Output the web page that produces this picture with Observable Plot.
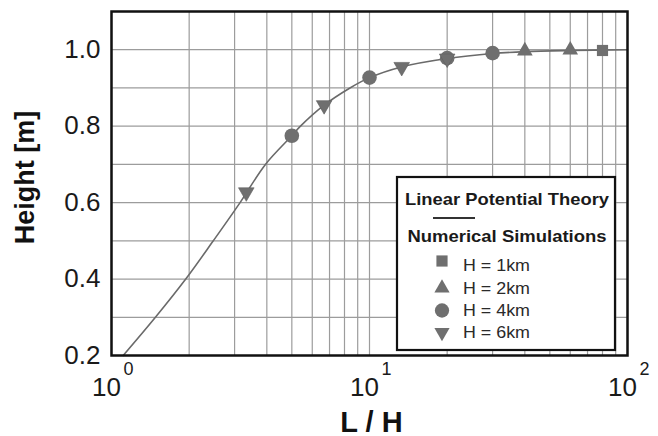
<!DOCTYPE html>
<html>
<head>
<meta charset="utf-8">
<script src="https://cdn.jsdelivr.net/npm/d3@7"></script>
<script src="https://cdn.jsdelivr.net/npm/@observablehq/plot@0.6"></script>
<style>
  html, body { margin: 0; padding: 0; background: #fff; }
  #chart { position: relative; width: 658px; height: 436px; overflow: hidden; }
</style>
</head>
<body>
<div id="chart"></div>
<script>
// Theory curve (Linear Potential Theory)
const curveX = [1.11, 1.48, 1.94, 2.48, 3.15, 3.95, 5.0, 5.4, 6.67, 8.4, 10, 13.3, 20, 30, 40, 60, 100];
const curveY = [0.2, 0.3, 0.4, 0.5, 0.6, 0.7, 0.775, 0.8, 0.855, 0.9, 0.927, 0.955, 0.977, 0.99, 0.995, 0.998, 1.0];

// Numerical simulations
const h1X = [80], h1Y = [0.998];
const h2X = [40, 60], h2Y = [0.997, 0.999];
const h4X = [5, 10, 20, 30], h4Y = [0.775, 0.927, 0.978, 0.991];
const h6X = [3.33, 6.67, 13.33, 20], h6Y = [0.627, 0.855, 0.955, 0.977];

// Axes
const xGrid = [1,2,3,4,5,6,7,8,9,10,20,30,40,50,60,70,80,90,100];
const yGrid = [0.2,0.3,0.4,0.5,0.6,0.7,0.8,0.9,1.0,1.1];
const yTicks = [0.2,0.4,0.6,0.8,1.0];
const xTickVals = [1, 10, 100];
const xTickBase = ["10", "10", "10"];
const xTickExp = ["0", "1", "2"];

const legendTitle1 = "Linear Potential Theory";
const legendTitle2 = "Numerical Simulations";
const legendLabels = ["H = 1km", "H = 2km", "H = 4km", "H = 6km"];

const zip = (xs, ys) => xs.map((x, i) => ({x, y: ys[i]}));
const curve = zip(curveX, curveY);
const MARK = "#6f6f6f";

const plot = Plot.plot({
  width: 658,
  height: 436,
  marginLeft: 111,
  marginRight: 31,
  marginTop: 11,
  marginBottom: 81,
  style: {fontFamily: "'Liberation Sans', Arial, sans-serif", background: "#fff", color: "#1a1a1a"},
  x: {type: "log", domain: [1, 100], axis: null},
  y: {domain: [0.2, 1.1], axis: null},
  marks: [
    Plot.ruleX(xGrid, {stroke: "#9c9c9c", strokeWidth: 1.2}),
    Plot.ruleY(yGrid, {stroke: "#9c9c9c", strokeWidth: 1.2}),
    Plot.line(curve, {x: "x", y: "y", stroke: "#6a6a6a", strokeWidth: 1.6, curve: "catmull-rom"}),
    Plot.dot(zip(h1X, h1Y), {x: "x", y: "y", symbol: "square", r: 6.3, fill: MARK}),
    Plot.dot(zip(h2X, h2Y), {x: "x", y: "y", symbol: "triangle", r: 5.8, fill: MARK}),
    Plot.dot(zip(h4X, h4Y), {x: "x", y: "y", symbol: "circle", r: 7.3, fill: MARK}),
    Plot.dot(zip(h6X, h6Y), {x: "x", y: "y", symbol: "triangle", r: 5.8, rotate: 180, fill: MARK, stroke: "#5e5e5e", strokeWidth: 0.6}),
    Plot.axisY(yTicks, {tickSize: 0, tickPadding: 11, fontSize: 26, tickFormat: d3.format(".1f"), label: null, fill: "#1a1a1a"}),
    Plot.text(xTickVals, {x: d => d, y: 0.2, text: (d, i) => xTickBase[i], dx: -5, dy: 32, fontSize: 26, fill: "#1a1a1a"}),
    Plot.text(xTickVals, {x: d => d, y: 0.2, text: (d, i) => xTickExp[i], dx: 17, dy: 14, fontSize: 18, fill: "#1a1a1a"}),
    Plot.text(["Height [m]"], {frameAnchor: "left", textAnchor: "middle", dx: -86, dy: -6, rotate: -90, fontSize: 27, fontWeight: "bold", fill: "#111"}),
    Plot.text(["L / H"], {frameAnchor: "bottom", textAnchor: "middle", dx: 2, dy: 76, lineAnchor: "bottom", fontSize: 29, fontWeight: "bold", fill: "#111"}),
    Plot.frame({stroke: "#111", strokeWidth: 2.5})
  ]
});

document.getElementById("chart").appendChild(plot);

// Legend box drawn into the Plot SVG
const svg = d3.select(plot);
const g = svg.append("g").attr("font-family", "'Liberation Sans', Arial, sans-serif").attr("text-anchor", "start");
g.append("rect").attr("x", 397).attr("y", 177).attr("width", 218).attr("height", 173)
  .attr("fill", "#fff").attr("stroke", "#111").attr("stroke-width", 2.2);
g.append("text").attr("x", 507).attr("y", 205).attr("text-anchor", "middle")
  .attr("font-size", 16.5).attr("font-weight", "bold").attr("fill", "#1a1a1a")
  .attr("textLength", 204).attr("lengthAdjust", "spacingAndGlyphs").text(legendTitle1);
g.append("line").attr("x1", 433).attr("x2", 475).attr("y1", 218).attr("y2", 218)
  .attr("stroke", "#333").attr("stroke-width", 2.2);
g.append("text").attr("x", 507).attr("y", 242).attr("text-anchor", "middle")
  .attr("font-size", 16.5).attr("font-weight", "bold").attr("fill", "#1a1a1a")
  .attr("textLength", 199).attr("lengthAdjust", "spacingAndGlyphs").text(legendTitle2);
const syms = [
  {type: d3.symbolSquare, size: 125, rot: 0, dy: -4},
  {type: d3.symbolTriangle, size: 100, rot: 0, dy: 0},
  {type: d3.symbolCircle, size: 160, rot: 0, dy: 0},
  {type: d3.symbolTriangle, size: 100, rot: 180, dy: 0}
];
const rowY = [265, 288, 310.5, 332.5];
legendLabels.forEach((lab, i) => {
  g.append("path").attr("d", d3.symbol(syms[i].type, syms[i].size)())
    .attr("transform", `translate(442,${rowY[i] + syms[i].dy}) rotate(${syms[i].rot})`)
    .attr("fill", MARK);
  g.append("text").attr("x", 463).attr("y", rowY[i] + 5.5).attr("font-size", 16)
    .attr("text-anchor", "start")
    .attr("fill", "#2a2a2a").attr("textLength", 67).attr("lengthAdjust", "spacingAndGlyphs").text(lab);
});
</script>
</body>
</html>
